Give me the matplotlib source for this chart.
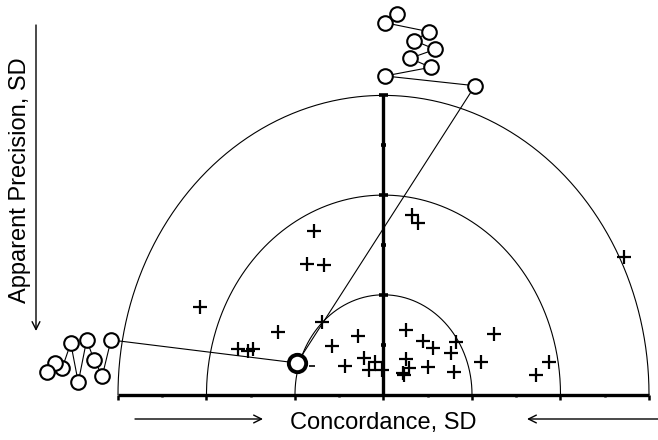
import numpy as np
import matplotlib
matplotlib.use("Agg")
import matplotlib.pyplot as plt

plt.rcParams['font.family'] = ['Liberation Sans', 'DejaVu Sans']

# ---------------- data (SD units) ----------------
radii = [1, 2, 3]
x_ticks = [-3, -2.5, -2, -1.5, -1, -0.5, 0, 0.5, 1, 1.5, 2, 2.5, 3]
y_ticks = [0.5, 1, 1.5, 2, 2.5, 3]

plus_x = [-0.782, -0.868, -0.669, -2.077, -1.195, -0.698, -1.641, -1.528, -1.471,
          -0.582, -0.288, -0.435, -0.220, -0.164, -0.096, -0.020, 0.254, 0.443,
          0.563, 0.814, 0.763, 0.791, 0.249, 0.288, 0.217, 0.226, 0.501, 0.325,
          0.386, 1.102, 1.252, 1.720, 1.870, 2.718]
plus_y = [1.640, 1.306, 1.299, 0.881, 0.630, 0.724, 0.456, 0.439, 0.456,
          0.491, 0.582, 0.281, 0.363, 0.246, 0.321, 0.241, 0.642, 0.532,
          0.463, 0.530, 0.416, 0.229, 0.356, 0.261, 0.216, 0.191, 0.279, 1.800,
          1.717, 0.323, 0.604, 0.196, 0.329, 1.379]

# highlighted point
big_x, big_y = -0.977, 0.316

# off-scale trail going up
top_x = [1.034, 0.017, 0.533, 0.299, 0.585, 0.348, 0.514, 0.017, 0.149]
top_y = [3.097, 3.195, 3.282, 3.372, 3.462, 3.549, 3.639, 3.729, 3.816]

# off-scale trail going left
left_x = [-3.079, -3.177, -3.271, -3.354, -3.449, -3.534, -3.629, -3.712, -3.806]
left_y = [0.547, 0.189, 0.346, 0.547, 0.122, 0.514, 0.269, 0.313, 0.223]

xlabel = "Concordance, SD"
ylabel = "Apparent Precision, SD"

# ---------------- figure ----------------
W, H = 658, 440
fig = plt.figure(figsize=(W / 100, H / 100), dpi=100)
ax = fig.add_axes([0, 0, 1, 1])
ax.set_axis_off()

x0, sx = 383.5, 88.5
y0, sy = 394.5, 99.7
ax.set_xlim(-x0 / sx, (W - x0) / sx)
ax.set_ylim((y0 - H) / sy, y0 / sy)

# arcs
th = np.linspace(0, np.pi, 400)
for r in radii:
    ax.plot(r * np.cos(th), r * np.sin(th), color='black', lw=0.8, zorder=2)

# horizontal axis
ax.plot([-3, 3], [0, 0], color='black', lw=2.4, zorder=3, solid_capstyle='butt')
for t in x_ticks:
    L = 0.055 if float(t).is_integer() else 0.03
    ax.plot([t, t], [0, -L], color='black', lw=1.8, zorder=3, solid_capstyle='butt')

# vertical axis
ax.plot([0, 0], [0, 3], color='black', lw=2.4, zorder=3, solid_capstyle='butt')
for t in y_ticks:
    w = 0.055 if float(t).is_integer() else 0.03
    ax.plot([-w, w], [t, t], color='black', lw=2.6, zorder=3, solid_capstyle='butt')

# connecting lines
ax.plot([big_x] + top_x, [big_y] + top_y, color='black', lw=0.8, zorder=4)
ax.plot([big_x] + left_x, [big_y] + left_y, color='black', lw=0.8, zorder=4)

# plus markers
ax.plot(plus_x, plus_y, linestyle='none', marker='+', ms=9.5, mew=1.6,
        color='black', zorder=5)

# circles
ax.plot(top_x, top_y, linestyle='none', marker='o', ms=10.5, mew=1.5,
        mfc='white', mec='black', zorder=6, clip_on=False)
ax.plot(left_x, left_y, linestyle='none', marker='o', ms=10.5, mew=1.5,
        mfc='white', mec='black', zorder=6, clip_on=False)
ax.plot([big_x], [big_y], linestyle='none', marker='o', ms=12.5, mew=2.8,
        mfc='white', mec='black', zorder=7)
ax.plot([big_x + 0.17], [big_y - 0.03], linestyle='none', marker='_', ms=4,
        mew=1.2, color='black', zorder=7)

# labels
fig.text(x0 / W, 1 - 423 / H, xlabel, ha='center', va='center', fontsize=17)
fig.text(20 / W, 1 - 180 / H, ylabel, ha='center', va='center', fontsize=17,
         rotation=90)

# arrows (figure pixels)
def arrow(p_from, p_to):
    ax.annotate('', xy=(p_to[0], H - p_to[1]), xytext=(p_from[0], H - p_from[1]),
                xycoords='figure pixels', textcoords='figure pixels',
                arrowprops=dict(arrowstyle='->', lw=1.0, color='black',
                                mutation_scale=14, shrinkA=0, shrinkB=0))

arrow((135, 419), (263, 419))
arrow((658, 419), (527, 419))
arrow((36, 25), (36, 331))

fig.savefig('out.png', dpi=100)
